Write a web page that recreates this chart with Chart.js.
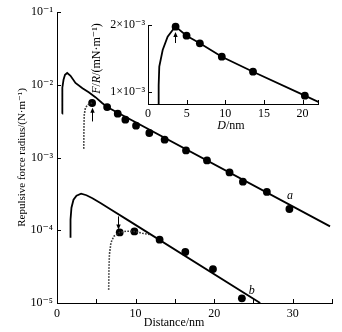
<!DOCTYPE html>
<html lang="en">
<head>
<meta charset="UTF-8">
<title>Repulsive force radius vs distance</title>
<script src="https://cdn.jsdelivr.net/npm/chart.js"></script>
<style>
  body { margin: 0; background: #fff; }
  #wrap { position: relative; width: 342px; height: 332px; }
  #main { position: absolute; left: 0; top: 0; }
  #inset { position: absolute; left: 88px; top: 0; }
</style>
</head>
<body>
<div id="wrap">
  <canvas id="main" width="342" height="332"></canvas>
  <canvas id="inset" width="240" height="134"></canvas>
</div>
<script>
// ---- main plot data (x: nm, y: N/m, log axis) ----
// curve a: model line
const aLineX = [0.66, 0.66, 0.70, 0.83, 1.02, 1.30, 1.72, 2.35, 3.24, 4.04, 4.89, 5.74, 6.38, 34.75];
const aLineY = [4.0e-3, 6.2e-3, 9.1e-3, 1.17e-2, 1.37e-2, 1.45e-2, 1.33e-2, 1.06e-2, 8.97e-3, 7.86e-3, 6.75e-3, 5.61e-3, 4.94e-3, 1.13e-4];
// curve a: measured points
const aDotsX = [4.47, 6.38, 7.73, 8.70, 10.06, 11.75, 13.70, 16.42, 19.09, 21.96, 23.66, 26.71, 29.58];
const aDotsY = [5.61e-3, 4.94e-3, 4.0e-3, 3.31e-3, 2.74e-3, 2.17e-3, 1.76e-3, 1.25e-3, 9.13e-4, 6.24e-4, 4.65e-4, 3.36e-4, 1.96e-4];
// curve a: dotted approach trace
const aTrailX = [3.41, 3.43, 3.47, 3.62, 3.94, 4.47];
const aTrailY = [1.32e-3, 2.41e-3, 3.87e-3, 4.84e-3, 5.32e-3, 5.61e-3];

// curve b
const bLineX = [1.72, 1.72, 1.84, 2.10, 2.48, 3.07, 3.75, 4.51, 5.53, 6.80, 8.92, 25.86];
const bLineY = [7.9e-5, 1.40e-4, 2.04e-4, 2.63e-4, 2.99e-4, 3.18e-4, 3.03e-4, 2.76e-4, 2.37e-4, 1.95e-4, 1.40e-4, 1.0e-5];
const bDotsX = [7.98, 9.85, 13.06, 16.33, 19.85, 23.53];
const bDotsY = [9.33e-5, 9.63e-5, 7.41e-5, 5.02e-5, 2.93e-5, 1.16e-5];
const bTrailX = [6.58, 6.61, 6.67, 6.86, 7.24, 7.98, 8.83, 9.85, 10.86, 11.9];
const bTrailY = [1.52e-5, 2.87e-5, 4.62e-5, 6.74e-5, 8.28e-5, 9.33e-5, 9.70e-5, 9.63e-5, 9.10e-5, 8.7e-5];

// arrows [x, from y, to y] and curve tags
const mainArrows = [[4.40, 3.13e-3, 4.84e-3], [7.73, 1.55e-4, 1.02e-4]];
const tagText = ['a', 'b'];
const tagX = [29.67, 24.8];
const tagY = [2.98e-4, 1.49e-5];

// main axes
const xTicks = [0, 5, 10, 15, 20, 25, 30, 35];
const xTickLabels = ['0', '', '10', '', '20', '', '30', ''];
const yTicks = [1e-5, 1e-4, 1e-3, 1e-2, 1e-1];
const yTickLabels = ['10⁻⁵', '10⁻⁴', '10⁻³', '10⁻²', '10⁻¹'];

// ---- inset data (x: D/nm, y: F/R in mN/m, linear) ----
const insLineX = [1.33, 1.38, 1.46, 1.90, 2.54, 3.19, 3.57, 4.99, 6.71, 9.55, 13.59, 20.30, 22.06];
const insLineY = [0.821e-3, 1.10e-3, 1.378e-3, 1.627e-3, 1.825e-3, 1.925e-3, 1.975e-3, 1.840e-3, 1.727e-3, 1.527e-3, 1.303e-3, 0.945e-3, 0.851e-3];
const insDotsX = [3.57, 4.99, 6.71, 9.55, 13.59, 20.30];
const insDotsY = [1.975e-3, 1.840e-3, 1.727e-3, 1.527e-3, 1.303e-3, 0.945e-3];
const insArrow = [3.48, 1.731e-3, 1.896e-3];
const insXTicks = [0, 5, 10, 15, 20, 22];
const insXTickLabels = ['0', '5', '10', '15', '20', ''];
const insYTicks = [1e-3, 2e-3];
const insYTickLabels = ['1×10⁻³', '2×10⁻³'];

const SERIF = '"Liberation Serif", "DejaVu Serif", serif';
Chart.defaults.font.family = SERIF;
Chart.defaults.color = '#000';

function pts(xs, ys) { return xs.map((v, i) => ({ x: v, y: ys[i] })); }

function lineSet(xs, ys, dotted) {
    return {
        data: pts(xs, ys), showLine: true, pointRadius: 0,
        borderColor: dotted ? '#333' : '#000',
        borderWidth: dotted ? 1.6 : 1.8,
        borderDash: dotted ? [1.6, 1.4] : []
    };
}
function dotSet(xs, ys) {
    return { data: pts(xs, ys), showLine: false, pointRadius: 3.9, pointBackgroundColor: '#000', pointBorderWidth: 0, clip: false };
}

// small ticks pointing into the plot
const innerTicks = {
    id: 'innerTicks',
    afterDatasetsDraw(chart) {
        const { ctx, scales: { x, y } } = chart;
        ctx.save();
        ctx.strokeStyle = '#000';
        ctx.lineWidth = 1;
        x.ticks.forEach(t => {
            const px = Math.round(x.getPixelForValue(t.value)) + 0.5;
            ctx.beginPath(); ctx.moveTo(px, x.top); ctx.lineTo(px, x.top - 4); ctx.stroke();
        });
        y.ticks.forEach(t => {
            const py = Math.round(y.getPixelForValue(t.value)) + 0.5;
            ctx.beginPath(); ctx.moveTo(y.right, py); ctx.lineTo(y.right + 4, py); ctx.stroke();
        });
        ctx.restore();
    }
};

function drawArrow(ctx, px, y1, y2) {
    const dir = y2 > y1 ? 1 : -1;
    ctx.beginPath(); ctx.moveTo(px, y1); ctx.lineTo(px, y2 - dir * 3); ctx.stroke();
    ctx.beginPath();
    ctx.moveTo(px, y2); ctx.lineTo(px - 2.2, y2 - dir * 5); ctx.lineTo(px + 2.2, y2 - dir * 5);
    ctx.closePath(); ctx.fill();
}

// text with italic pieces, centred on (cx, cy)
function richText(ctx, parts, cx, cy, angle, size) {
    ctx.save();
    ctx.translate(cx, cy); ctx.rotate(angle);
    ctx.textBaseline = 'middle'; ctx.textAlign = 'left'; ctx.fillStyle = '#000';
    const fonts = parts.map(p => (p[1] ? 'italic ' : '') + size + 'px ' + SERIF);
    let w = 0;
    parts.forEach((p, i) => { ctx.font = fonts[i]; w += ctx.measureText(p[0]).width; });
    let xx = -w / 2;
    parts.forEach((p, i) => { ctx.font = fonts[i]; ctx.fillText(p[0], xx, 0); xx += ctx.measureText(p[0]).width; });
    ctx.restore();
}

const mainNotes = {
    id: 'mainNotes',
    afterDatasetsDraw(chart) {
        const { ctx, scales: { x, y }, chartArea } = chart;
        ctx.save();
        ctx.fillStyle = '#000'; ctx.strokeStyle = '#000'; ctx.lineWidth = 1;
        mainArrows.forEach(a => {
            drawArrow(ctx, Math.round(x.getPixelForValue(a[0])) + 0.5, y.getPixelForValue(a[1]), y.getPixelForValue(a[2]));
        });
        ctx.font = 'italic 12px ' + SERIF;
        ctx.textAlign = 'center'; ctx.textBaseline = 'middle';
        tagText.forEach((t, i) => ctx.fillText(t, x.getPixelForValue(tagX[i]), y.getPixelForValue(tagY[i])));
        ctx.font = '12px ' + SERIF;
        ctx.fillText('Distance/nm', x.getPixelForValue(14.9), chartArea.bottom + 20);
        ctx.restore();
    }
};

const insetNotes = {
    id: 'insetNotes',
    afterDatasetsDraw(chart) {
        const { ctx, scales: { x, y }, chartArea } = chart;
        ctx.save();
        ctx.fillStyle = '#000'; ctx.strokeStyle = '#000'; ctx.lineWidth = 1;
        drawArrow(ctx, Math.round(x.getPixelForValue(insArrow[0])) + 0.5, y.getPixelForValue(insArrow[1]), y.getPixelForValue(insArrow[2]));
        ctx.restore();
        richText(ctx, [['D', true], ['/nm', false]], (chartArea.left + chartArea.right) / 2 - 2, chartArea.bottom + 22, 0, 12);
        richText(ctx, [['F', true], ['/', false], ['R', true], ['/(mN·m⁻¹)', false]], chartArea.left - 51, (chartArea.top + chartArea.bottom) / 2 - 6, -Math.PI / 2, 12);
    }
};

new Chart(document.getElementById('main'), {
    type: 'scatter',
    data: {
        datasets: [
            lineSet(aTrailX, aTrailY, true),
            lineSet(bTrailX, bTrailY, true),
            lineSet(aLineX, aLineY, false),
            lineSet(bLineX, bLineY, false),
            dotSet(aDotsX, aDotsY),
            dotSet(bDotsX, bDotsY)
        ]
    },
    options: {
        responsive: false,
        animation: false,
        layout: { padding: { top: 12, right: 10, left: 0, bottom: 0 } },
        plugins: { legend: { display: false }, tooltip: { enabled: false } },
        scales: {
            x: {
                type: 'linear', min: 0, max: 35,
                grid: { display: false, drawTicks: false },
                border: { display: true, color: '#000', width: 1 },
                afterBuildTicks: s => { s.ticks = xTicks.map(v => ({ value: v })); },
                afterFit: s => { s.height = 29; },
                ticks: {
                    autoSkip: false, maxRotation: 0, padding: 4,
                    font: { size: 12 },
                    callback: (v, i) => xTickLabels[i]
                }
            },
            y: {
                type: 'logarithmic', min: 1e-5, max: 1e-1,
                grid: { display: false, drawTicks: false },
                border: { display: true, color: '#000', width: 1 },
                afterBuildTicks: s => { s.ticks = yTicks.map(v => ({ value: v })); },
                afterFit: s => { s.width = 57; },
                ticks: {
                    autoSkip: false, padding: 4,
                    font: { size: 12 },
                    callback: (v, i) => yTickLabels[i]
                },
                title: {
                    display: true,
                    text: 'Repulsive force radius/(N·m⁻¹)',
                    font: { size: 11 },
                    padding: { top: 16, bottom: 0 }
                }
            }
        }
    },
    plugins: [innerTicks, mainNotes]
});

new Chart(document.getElementById('inset'), {
    type: 'scatter',
    data: {
        datasets: [
            lineSet(insLineX, insLineY, false),
            dotSet(insDotsX, insDotsY)
        ]
    },
    options: {
        responsive: false,
        animation: false,
        layout: { padding: { top: 25, right: 10, left: 0, bottom: 0 } },
        plugins: { legend: { display: false }, tooltip: { enabled: false } },
        scales: {
            x: {
                type: 'linear', min: 0, max: 22,
                grid: { display: false, drawTicks: false },
                border: { display: true, color: '#000', width: 1 },
                afterBuildTicks: s => { s.ticks = insXTicks.map(v => ({ value: v })); },
                afterFit: s => { s.height = 30; },
                ticks: {
                    autoSkip: false, maxRotation: 0, padding: 3,
                    font: { size: 12 },
                    callback: (v, i) => insXTickLabels[i]
                }
            },
            y: {
                type: 'linear', min: 0.821e-3, max: 2e-3,
                grid: { display: false, drawTicks: false },
                border: { display: true, color: '#000', width: 1 },
                afterBuildTicks: s => { s.ticks = insYTicks.map(v => ({ value: v })); },
                afterFit: s => { s.width = 60; },
                ticks: {
                    autoSkip: false, padding: 3,
                    font: { size: 12 },
                    callback: (v, i) => insYTickLabels[i]
                }
            }
        }
    },
    plugins: [innerTicks, insetNotes]
});
</script>
</body>
</html>
